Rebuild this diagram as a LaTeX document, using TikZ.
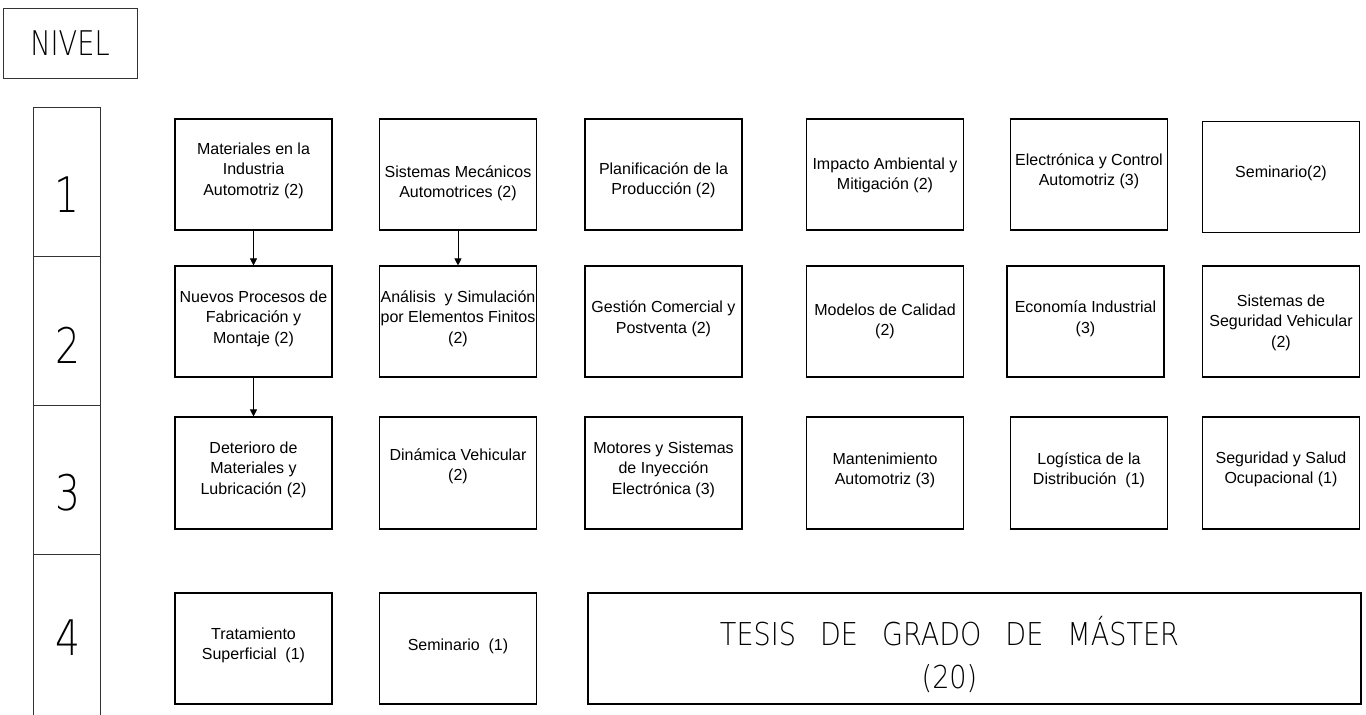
\documentclass[tikz,border=0pt]{standalone}
\usepackage{fontspec}
\setmainfont{Liberation Sans}
\newfontfamily\thinf[FakeStretch=0.8]{DejaVuSans-ExtraLight.ttf}
\newfontfamily\thint[FakeStretch=0.86]{DejaVuSans-ExtraLight.ttf}
\usetikzlibrary{arrows.meta}
\newcommand\bxt[2]{\raisebox{#1pt}[0pt][0pt]{\begin{tabular}[b]{@{}c@{}}#2\end{tabular}}}
\tikzset{
  box/.style={draw=black, line width=1.1pt, minimum width=157pt, minimum height=111pt, inner sep=0pt, font=\fontsize{16}{20.5}\selectfont},
  lvl/.style={draw=black!80, line width=0.9pt},
  num/.style={inner sep=0pt, font=\thinf\fontsize{49}{49}\selectfont},
  arr/.style={line width=1pt, -{Triangle[width=7pt,length=7pt]}}
}
\begin{document}
\begin{tikzpicture}[x=1pt,y=-1pt]
\useasboundingbox[fill=white] (0,0) rectangle (1366,715);
% NIVEL
\node[draw=black!80, line width=1pt, minimum width=134pt, minimum height=70pt, inner sep=0pt, font=\thinf\fontsize{34}{34}\selectfont] (nivel) at (70,43) {NIVEL};
% level column
\draw[lvl] (33,715) -- (33,107) -- (100,107) -- (100,715);
\draw[lvl] (33,256) -- (100,256);
\draw[lvl] (33,405) -- (100,405);
\draw[lvl] (33,554) -- (100,554);
\node[num] (n1) at (67,195) {1};
\node[num] (n2) at (68,345) {2};
\node[num] (n3) at (68,493) {3};
\node[num] (n4) at (68,638) {4};
% row 1
\node[box] (m11) at (253.5,174.5) {\bxt{-20.7}{Materiales en la\\Industria\\Automotriz (2)}};
\node[box] (m12) at (458,174.5) {\bxt{-23.45}{Sistemas Mecánicos\\Automotrices (2)}};
\node[box] (m13) at (663.5,174.5) {\bxt{-20.45}{Planificación de la\\Producción (2)}};
\node[box] (m14) at (885,174.5) {\bxt{-15.45}{Impacto Ambiental y\\Mitigación (2)}};
\node[box] (m15) at (1089,174.5) {\bxt{-11.45}{Electrónica y Control\\Automotriz (3)}};
\node[box] (m16) at (1281,177) {\bxt{-0.7}{Seminario(2)}};
% row 2
\node[box] (m21) at (253.5,321.5) {\bxt{-21.7}{Nuevos Procesos de\\Fabricación y\\Montaje (2)}};
\node[box] (m22) at (458,321.5) {\bxt{-21.7}{Análisis\ \ y Simulación\\por Elementos Finitos\\(2)}};
\node[box] (m23) at (663.5,321.5) {\bxt{-11.95}{Gestión Comercial y\\Postventa (2)}};
\node[box] (m24) at (885,321.5) {\bxt{-14.45}{Modelos de Calidad\\(2)}};
\node[box] (m25) at (1085.5,321.5) {\bxt{-11.95}{Economía Industrial\\(3)}};
\node[box] (m26) at (1281,321.5) {\bxt{-25.7}{Sistemas de\\Seguridad Vehicular\\(2)}};
% row 3
\node[box, minimum height=112pt] (m31) at (253.5,473) {\bxt{-21.2}{Deterioro de\\Materiales y\\Lubricación (2)}};
\node[box, minimum height=112pt] (m32) at (458,473) {\bxt{-7.95}{Dinámica Vehicular\\(2)}};
\node[box, minimum height=112pt] (m33) at (663.5,473) {\bxt{-21.2}{Motores y Sistemas\\de Inyección\\Electrónica (3)}};
\node[box, minimum height=112pt] (m34) at (885,473) {\bxt{-11.95}{Mantenimiento\\Automotriz (3)}};
\node[box, minimum height=112pt] (m35) at (1089,473) {\bxt{-11.95}{Logística de la\\Distribución\ \ (1)}};
\node[box, minimum height=112pt] (m36) at (1281,473) {\bxt{-10.95}{Seguridad y Salud\\Ocupacional (1)}};
% row 4
\node[box] (m41) at (253.5,648.5) {\bxt{-11.45}{Tratamiento\\Superficial\ \ (1)}};
\node[box] (m42) at (458,648.5) {\bxt{-2.2}{Seminario\ \ (1)}};
\node[box, minimum width=773pt, font=\thint\fontsize{31.5}{43}\selectfont] (tesis) at (974.5,648.5) {\bxt{-40}{TESIS\hspace{24pt}DE\hspace{24pt}GRADO\hspace{24pt}DE\hspace{24pt}MÁSTER\\(20)}\rule{50pt}{0pt}};
% arrows
\draw[arr] (m11.south) -- (m21.north);
\draw[arr] (m12.south) -- (m22.north);
\draw[arr] (m21.south) -- (m31.north);
\end{tikzpicture}
\end{document}
